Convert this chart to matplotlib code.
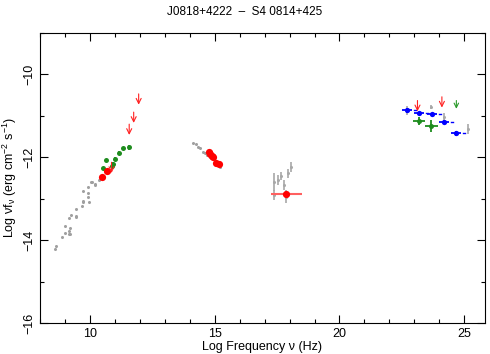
import matplotlib
matplotlib.use("Agg")
import matplotlib.pyplot as plt
from matplotlib.ticker import MultipleLocator

plt.rcParams['font.family'] = ['Liberation Sans', 'DejaVu Sans']
plt.rcParams['mathtext.fontset'] = 'custom'
plt.rcParams['mathtext.rm'] = 'Liberation Sans'
plt.rcParams['mathtext.it'] = 'Liberation Sans'

title = "J0818+4222  \u2013  S4 0814+425"

# archival (gray) points
gray_x = [8.60, 8.61, 8.88, 8.99, 9.15, 9.20, 9.15, 9.18, 8.99, 9.15, 9.23, 9.43, 9.44, 9.43,
          9.66, 9.70, 9.70, 9.94, 9.91, 9.91, 9.70, 9.91, 10.03, 10.19, 10.18, 10.34, 10.05,
          14.12, 14.23, 14.31, 14.39, 14.51, 14.59, 14.69, 14.82, 14.95, 15.19]
gray_y = [-14.22, -14.15, -13.92, -13.83, -13.86, -13.85, -13.78, -13.71, -13.67, -13.47, -13.40,
          -13.41, -13.44, -13.25, -13.17, -13.09, -13.05, -13.08, -12.97, -12.87, -12.81, -12.72,
          -12.60, -12.67, -12.64, -12.55, -12.59,
          -11.65, -11.69, -11.74, -11.78, -11.87, -11.90, -11.94, -12.00, -12.05, -12.24]

# archival points with y errors (X-ray and gamma)
grayerr_x = [17.39, 17.39, 17.53, 17.65, 17.79, 17.92, 18.06, 17.87, 22.71, 23.68, 24.21, 25.15]
grayerr_y = [-12.59, -12.92, -12.55, -12.45, -12.67, -12.39, -12.23, -12.95, -10.87, -10.78, -11.02, -11.32]
grayerr_e = [0.22, 0.12, 0.12, 0.10, 0.12, 0.10, 0.12, 0.15, 0.12, 0.05, 0.10, 0.12]

# red simultaneous points
red_x = [10.47, 10.65, 14.75, 14.82, 14.89, 14.93, 15.06, 15.15]
red_y = [-12.47, -12.33, -11.88, -11.93, -11.97, -12.00, -12.13, -12.15]

# red X-ray point with x error
redx_x = [17.87]
redx_y = [-12.89]
redx_xerr = [0.63]

# green radio points
green_x = [10.49, 10.63, 10.86, 10.91, 10.99, 11.16, 11.33, 11.56]
green_y = [-12.27, -12.07, -12.21, -12.16, -12.03, -11.89, -11.78, -11.76]
green_yerr = [0.03, 0.03, 0.05, 0.05, 0.04, 0.04, 0.04, 0.06]

# green gamma points
greeng_x = [23.20, 23.68]
greeng_y = [-11.12, -11.24]
greeng_xerr = [0.25, 0.26]
greeng_yerr = [0.10, 0.14]

# blue gamma points
blue_x = [22.71, 23.20, 23.71, 24.21, 24.69]
blue_y = [-10.87, -10.94, -10.96, -11.14, -11.42]
blue_xerr = [0.22, 0.20, 0.20, 0.20, 0.20]
blue_yerr = [0.05, 0.04, 0.04, 0.05, 0.06]

# upper limits (top of arrow)
ulr_x = [10.85, 11.56, 11.74, 11.94, 23.13, 24.11]
ulr_y = [-12.12, -11.20, -10.91, -10.47, -10.63, -10.54]
ulg_x = [24.69]
ulg_y = [-10.63]

fig = plt.figure(figsize=(4.9, 3.54), dpi=100)
ax = fig.add_axes([40/490, 31/354, 445/490, 290/354])

ax.plot(gray_x, gray_y, 'o', color='#a0a0a0', ms=2.2, mew=0, zorder=2)
ax.errorbar(grayerr_x, grayerr_y, yerr=grayerr_e, fmt='o', color='#a8a8a8', ms=2.2,
            mew=0, elinewidth=1.2, capsize=0, zorder=2)

ax.errorbar(green_x, green_y, yerr=green_yerr, fmt='o', color='#1e8c1e', ms=3.6,
            mew=0, elinewidth=1.2, capsize=0, zorder=3)
ax.plot(red_x, red_y, 'o', color='#ff0000', ms=5.2, mew=0, zorder=4)
ax.errorbar(redx_x, redx_y, xerr=redx_xerr, fmt='o', color='#ff0000', ms=5.2, mew=0,
            ecolor='#ff6060', elinewidth=1.5, capsize=0, zorder=4)

ax.errorbar(greeng_x, greeng_y, xerr=greeng_xerr, yerr=greeng_yerr, fmt='o', color='#1e8c1e',
            ms=3.6, mew=0, elinewidth=1.3, capsize=0, zorder=3)
ax.errorbar(blue_x, blue_y, xerr=blue_xerr, yerr=blue_yerr, fmt='o', color='#0000ff',
            ms=3.8, mew=0, elinewidth=1.3, capsize=0, zorder=4)
for x, y, e in zip(blue_x, blue_y, blue_xerr):
    ax.plot([x + e + 0.08, x + e + 0.16], [y, y], color='#0000ff', lw=1.0, zorder=4)

for x, y in zip(ulr_x, ulr_y):
    ax.annotate('', xy=(x, y - 0.26), xytext=(x, y),
                arrowprops=dict(arrowstyle='->', color='#ff2020', lw=0.8,
                                mutation_scale=9, shrinkA=0, shrinkB=0), zorder=5)
for x, y in zip(ulg_x, ulg_y):
    ax.annotate('', xy=(x, y - 0.2), xytext=(x, y),
                arrowprops=dict(arrowstyle='->', color='#2a9a2a', lw=0.8,
                                mutation_scale=8, shrinkA=0, shrinkB=0), zorder=5)

ax.set_xlim(7.98, 25.84)
ax.set_ylim(-16, -9)
ax.xaxis.set_major_locator(MultipleLocator(5))
ax.xaxis.set_minor_locator(MultipleLocator(1))
ax.yaxis.set_major_locator(MultipleLocator(2))
ax.yaxis.set_minor_locator(MultipleLocator(1))
ax.tick_params(which='both', direction='in', top=True, right=True, labelsize=9, width=0.8)
ax.tick_params(which='major', length=6)
ax.tick_params(which='minor', length=3)
for lab in ax.get_yticklabels():
    lab.set_rotation(90)
    lab.set_va('center')
for s in ax.spines.values():
    s.set_linewidth(0.8)

ax.set_xlabel('Log Frequency \u03bd (Hz)', fontsize=9, labelpad=1)
ax.set_ylabel('Log \u03bdf$_\\mathregular{\u03bd}$ (erg cm$^\\mathregular{-2}$ s$^\\mathregular{-1}$)',
              fontsize=9, labelpad=3)
fig.text(0.5, 1 - 12/354, title, ha='center', va='center', fontsize=8.5)

fig.savefig('out.png', dpi=100)
